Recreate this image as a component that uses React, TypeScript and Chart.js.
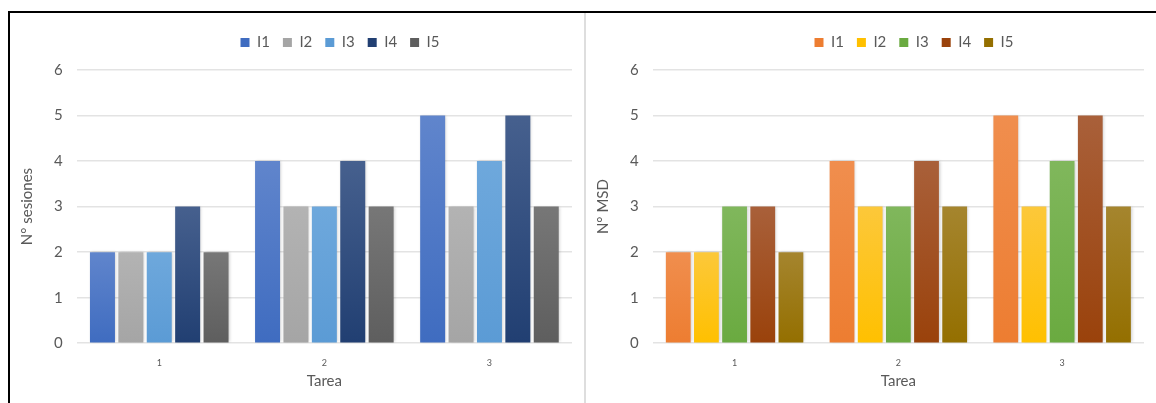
import React, { useEffect, useRef } from "react";
import { Chart, registerables } from "chart.js";

Chart.register(...registerables);

const categories = ["1", "2", "3"];
const seriesNames = ["I1", "I2", "I3", "I4", "I5"];

const sesionesI1 = [2, 4, 5];
const sesionesI2 = [2, 3, 3];
const sesionesI3 = [2, 3, 4];
const sesionesI4 = [3, 4, 5];
const sesionesI5 = [2, 3, 3];

const msdI1 = [2, 4, 5];
const msdI2 = [2, 3, 3];
const msdI3 = [3, 3, 4];
const msdI4 = [3, 4, 5];
const msdI5 = [2, 3, 3];

const blueColors = ["#3f6cc0", "#A5A5A5", "#5B9BD5", "#213f72", "#5e5e5e"];
const blueTops = ["#6085cc", "#b3b3b3", "#6ea8dc", "#46608e", "#777777"];
const warmColors = ["#ED7D31", "#FFC000", "#6aaa40", "#9a420b", "#946f00"];
const warmTops = ["#f08e4e", "#fcc83a", "#80b75c", "#a9603a", "#a5852e"];

const FONT = "Lato, 'Open Sans', sans-serif";
const GRAY = "#595959";

const shadowPlugin = {
  id: "barShadow",
  beforeInit(chart: any) {
    const lg = chart.legend;
    if (lg && !lg.__patched) {
      const orig = lg.fit.bind(lg);
      lg.fit = function () {
        orig();
        this.height += 10;
      };
      lg.__patched = true;
    }
  },
  afterLayout(chart: any) {
    const lg = chart.legend;
    if (lg) {
      lg.left += 47;
      lg.right += 47;
    }
  },
  beforeDatasetsDraw(chart: any) {
    const ctx = chart.ctx;
    ctx.save();
    ctx.shadowColor = "rgba(0,0,0,0.22)";
    ctx.shadowBlur = 3;
    ctx.shadowOffsetX = 1;
    ctx.shadowOffsetY = 0;
  },
  afterDatasetsDraw(chart: any) {
    chart.ctx.restore();
  },
};

function makeBg(base: string, top: string) {
  return (context: any) => {
    const chart = context.chart;
    const area = chart.chartArea;
    const yScale = chart.scales?.y;
    if (!area || !yScale || context.parsed == null) return base;
    const v = context.parsed.y;
    const yTop = yScale.getPixelForValue(v);
    const yBot = yScale.getPixelForValue(0);
    if (!isFinite(yTop) || !isFinite(yBot) || yTop === yBot) return base;
    const g = chart.ctx.createLinearGradient(0, yTop, 0, yBot);
    g.addColorStop(0, top);
    g.addColorStop(1, base);
    return g;
  };
}

function BarChart(props: { series: number[][]; colors: string[]; tops: string[]; yTitle: string; w: number }) {
  const ref = useRef<HTMLCanvasElement | null>(null);
  useEffect(() => {
    if (!ref.current) return;
    const chart = new Chart(ref.current, {
      type: "bar",
      data: {
        labels: categories,
        datasets: props.series.map((d, i) => ({
          label: seriesNames[i],
          data: d,
          backgroundColor: makeBg(props.colors[i], props.tops[i]) as any,
          borderWidth: 0,
          categoryPercentage: 0.86,
          barPercentage: 0.88,
        })),
      },
      options: {
        animation: false,
        responsive: false,
        maintainAspectRatio: false,
        devicePixelRatio: 1,
        layout: { padding: { left: 4, right: 12, top: 9, bottom: 13 } },
        plugins: {
          legend: {
            position: "top",
            labels: {
              boxWidth: 9,
              boxHeight: 9,
              padding: 13,
              color: GRAY,
              font: { family: FONT, size: 15 },
              generateLabels: (chart: any) =>
                chart.data.datasets.map((ds: any, i: number) => ({
                  text: ds.label,
                  fillStyle: props.colors[i],
                  strokeStyle: props.colors[i],
                  lineWidth: 0,
                  hidden: false,
                  datasetIndex: i,
                  fontColor: GRAY,
                })),
            },
          },
          tooltip: { enabled: false },
        },
        scales: {
          x: {
            grid: { display: false },
            border: { display: false },
            ticks: { color: GRAY, font: { family: FONT, size: 9 }, padding: 6 },
            title: { display: true, text: "Tarea", color: GRAY, font: { family: FONT, size: 15 }, padding: { top: -2, bottom: 0 } },
          },
          y: {
            min: 0,
            max: 6,
            ticks: { stepSize: 1, color: GRAY, font: { family: FONT, size: 15 }, padding: 14 },
            grid: { color: "#e3e3e3", lineWidth: 1.5, drawTicks: false },
            border: { display: false },
            title: { display: true, text: props.yTitle, color: GRAY, font: { family: FONT, size: 15 }, padding: { bottom: 4 } },
          },
        },
      },
      plugins: [shadowPlugin],
    });
    return () => chart.destroy();
  }, []);
  return <canvas ref={ref} width={props.w} height={390} style={{ display: "block" }} />;
}

export default function App() {
  return (
    <div style={{ position: "fixed", left: 0, top: 0, width: 1156, height: 403, background: "#fff", overflow: "hidden" }}>
      <div style={{ position: "absolute", left: 8, top: 11, width: 1160, height: 400, borderTop: "2px solid #000", borderLeft: "2px solid #000" }} />
      <div style={{ position: "absolute", left: 584, top: 13, width: 2, height: 390, background: "#dedede" }} />
      <div style={{ position: "absolute", left: 10, top: 13 }}>
        <BarChart
          series={[sesionesI1, sesionesI2, sesionesI3, sesionesI4, sesionesI5]}
          colors={blueColors}
          tops={blueTops}
          yTitle="N° sesiones"
          w={574}
        />
      </div>
      <div style={{ position: "absolute", left: 586, top: 13 }}>
        <BarChart
          series={[msdI1, msdI2, msdI3, msdI4, msdI5]}
          colors={warmColors}
          tops={warmTops}
          yTitle="N° MSD"
          w={570}
        />
      </div>
    </div>
  );
}
